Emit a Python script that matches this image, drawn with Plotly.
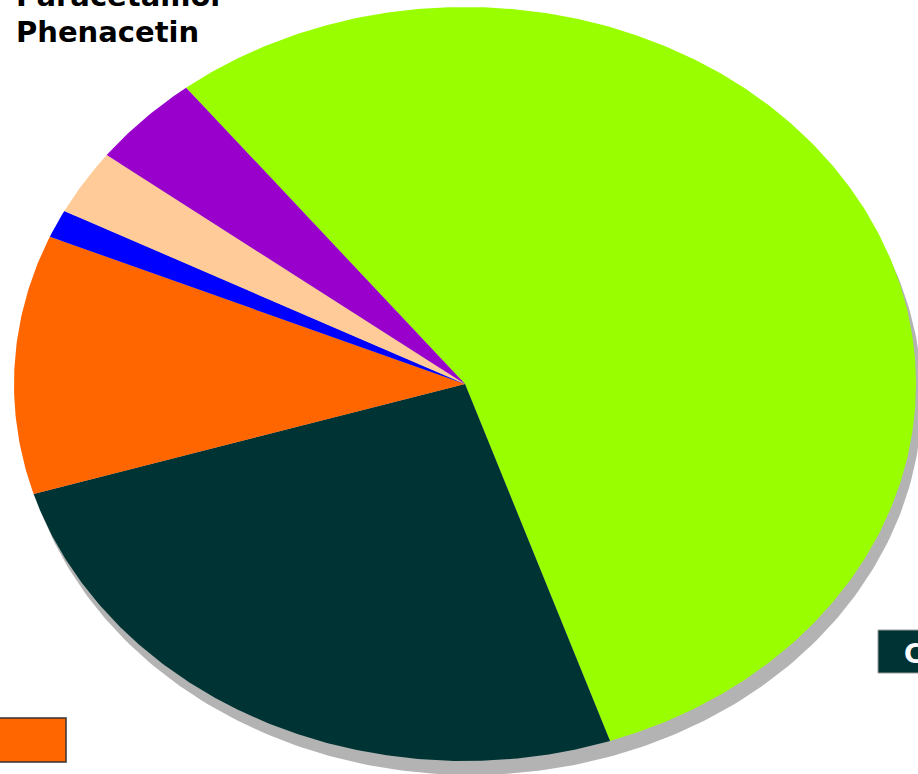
import numpy as np
import plotly.graph_objects as go

# ---- data ----
categories = ["Paracetamol", "Codeine", "Aspirin", "Caffeine", "Phenacetin", "Other"]
shares = [55.4, 25.5, 11.1, 1.2, 2.8, 4.0]
colors = ["#99ff00", "#003333", "#ff6600", "#0000ff", "#ffcc99", "#9900cc"]
legend_lines = ["Paracetamol", "Phenacetin"]
callout_text = "Codeine"

# ---- layout constants (pixels) ----
W, H = 918, 774
CX, CY, RX, RY = 465, 384, 451, 377
START_DEG = -38.2          # clockwise from 12 o'clock
SHADOW_DX, SHADOW_DY = 6, 14

fig = go.Figure()

def arc_pts(a0, a1, n):
    t = np.radians(np.linspace(a0, a1, n))
    return np.sin(t), np.cos(t)

# shadow ellipse
sx, sy = arc_pts(0, 360, 400)
fig.add_trace(go.Scatter(x=sx + SHADOW_DX / RX, y=sy - SHADOW_DY / RY, mode="lines",
                         fill="toself", fillcolor="#b3b3b3", line=dict(width=0),
                         hoverinfo="skip", showlegend=False))

total = sum(shares)
a = START_DEG
for name, v, c in zip(categories, shares, colors):
    span = v / total * 360.0
    n = max(int(span * 2), 4)
    px, py = arc_pts(a, a + span, n)
    xs = np.concatenate([[0], px, [0]])
    ys = np.concatenate([[0], py, [0]])
    fig.add_trace(go.Scatter(x=xs, y=ys, mode="lines", fill="toself", fillcolor=c,
                             line=dict(width=0, color=c), name=name,
                             text=f"{name}: {v}%", hoverinfo="text", showlegend=False))
    a += span

def px_to_paper(x, y):
    return x / W, 1 - y / H

# legend-like text at top left
for i, t in enumerate(legend_lines):
    xp, yp = px_to_paper(14, -4 + 36 * i)
    fig.add_annotation(x=xp, y=yp, xref="paper", yref="paper", text=f"<b>{t}</b>",
                       showarrow=False, xanchor="left", yanchor="middle",
                       font=dict(family="DejaVu Sans", size=29, color="#000000"))

# orange swatch bottom-left
fig.add_shape(type="rect", xref="paper", yref="paper",
              x0=-2 / W, x1=66 / W, y0=1 - 762 / H, y1=1 - 718 / H,
              fillcolor="#ff6600", line=dict(color="#333333", width=1.5))

# dark callout box right
fig.add_shape(type="rect", xref="paper", yref="paper",
              x0=878 / W, x1=1000 / W, y0=1 - 673 / H, y1=1 - 630 / H,
              fillcolor="#003333", line=dict(color="#999999", width=1))
xp, yp = px_to_paper(902, 654)
fig.add_annotation(x=xp, y=yp, xref="paper", yref="paper", text=f"<b>{callout_text}</b>",
                   showarrow=False, xanchor="left", yanchor="middle",
                   font=dict(family="DejaVu Sans", size=26, color="#ffffff"))

fig.update_layout(
    width=W, height=H, margin=dict(l=0, r=0, t=0, b=0),
    paper_bgcolor="#ffffff", plot_bgcolor="#ffffff",
    xaxis=dict(range=[-CX / RX, (W - CX) / RX], visible=False, fixedrange=True),
    yaxis=dict(range=[-(H - CY) / RY, CY / RY], visible=False, fixedrange=True),
    showlegend=False,
)

fig.write_html("out.html")
